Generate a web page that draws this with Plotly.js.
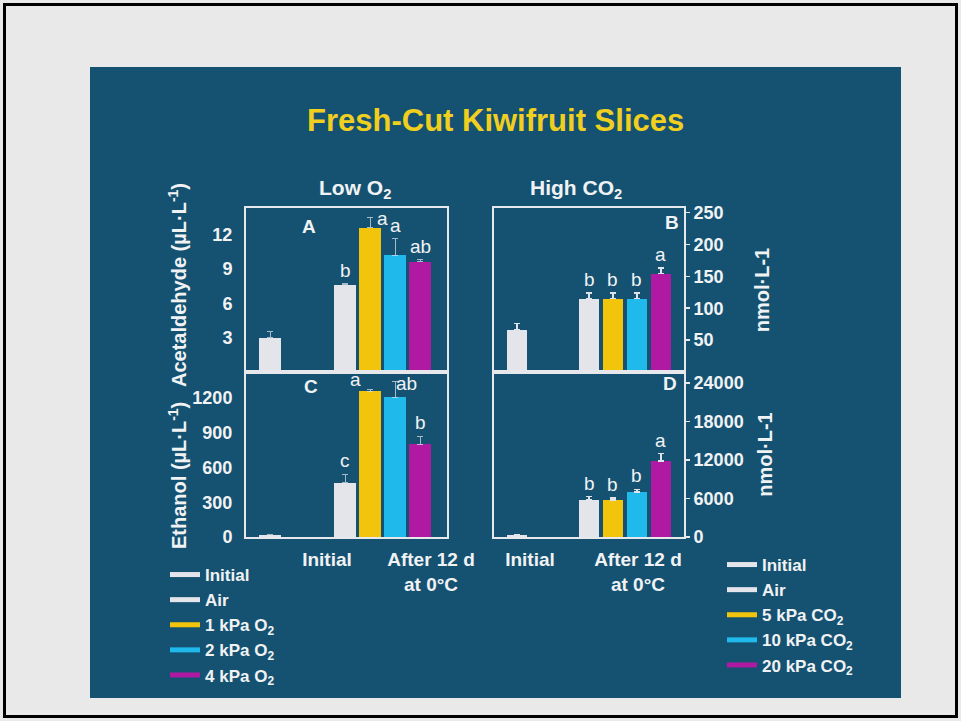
<!DOCTYPE html>
<html><head><meta charset="utf-8">
<script src="https://cdn.plot.ly/plotly-3.0.1.min.js"></script>
<style>html,body{margin:0;padding:0;background:#e9e9e9;}#chart{width:961px;height:721px;}</style>
</head><body><div id="chart"></div>
<script>
// ---- data ----
const treatmentsO2 = ['Initial', 'Air', '1 kPa O<sub>2</sub>', '2 kPa O<sub>2</sub>', '4 kPa O<sub>2</sub>'];
const treatmentsCO2 = ['Initial', 'Air', '5 kPa CO<sub>2</sub>', '10 kPa CO<sub>2</sub>', '20 kPa CO<sub>2</sub>'];
const periods = ['Initial', 'After 12 d<br>at 0°C'];

const acetaldehydeLowO2 = [3.0, 7.6, 12.6, 10.2, 9.6];
const acetaldehydeLowO2Err = [0.57, 0.1, 0.9, 1.4, 0.2];
const acetaldehydeLowO2Letters = ['', 'b', 'a', 'a', 'ab'];

const acetaldehydeHighCO2 = [66, 115, 115, 115, 154];
const acetaldehydeHighCO2Err = [10, 9, 9, 9, 9];
const acetaldehydeHighCO2Letters = ['', 'b', 'b', 'b', 'a'];

const ethanolLowO2 = [20, 470, 1260, 1207, 800];
const ethanolLowO2Err = [5, 70, 15, 131, 70];
const ethanolLowO2Letters = ['', 'c', 'a', 'ab', 'b'];

const ethanolHighCO2 = [300, 5800, 5800, 7000, 11800];
const ethanolHighCO2Err = [100, 500, 300, 400, 1200];
const ethanolHighCO2Letters = ['', 'b', 'b', 'b', 'a'];

const barColors = ['#e3e5eb', '#e3e5eb', '#f2c40c', '#1fb9ec', '#b01aa2'];

// ---- build ----
const W = 961, H = 721;
const px = v => v / W, py = v => 1 - v / H;
function slot(i) { return i === 0 ? 0 : i + 2; }

const panels = [
  {vals: acetaldehydeLowO2, errs: acetaldehydeLowO2Err, letters: acetaldehydeLowO2Letters, xa: 'x', ya: 'y'},
  {vals: acetaldehydeHighCO2, errs: acetaldehydeHighCO2Err, letters: acetaldehydeHighCO2Letters, xa: 'x2', ya: 'y2'},
  {vals: ethanolLowO2, errs: ethanolLowO2Err, letters: ethanolLowO2Letters, xa: 'x3', ya: 'y3'},
  {vals: ethanolHighCO2, errs: ethanolHighCO2Err, letters: ethanolHighCO2Letters, xa: 'x4', ya: 'y4'}
];
// label nudges where letters meet the panel top
const letterShift = {'0-2': [12, -15], '2-2': [-15, -4], '2-3': [11, -15]};

const FONT = 'Liberation Sans, Arial, Helvetica, sans-serif';
const WHITE = '#f1f2f4';
const traces = [];
const annotations = [];

panels.forEach((p, k) => {
  const faint = k % 2 === 0;
  traces.push({
    type: 'bar',
    x: p.vals.map((v, i) => slot(i)),
    y: p.vals,
    width: 0.86,
    marker: {color: barColors, line: {width: 0}},
    error_y: {type: 'data', symmetric: false, array: p.errs, arrayminus: p.errs.map(() => 0),
              color: faint ? 'rgba(215,222,232,0.75)' : '#dfe3ea', thickness: faint ? 1 : 1.5, width: 3},
    xaxis: p.xa, yaxis: p.ya, showlegend: false, hoverinfo: 'y'
  });
  p.letters.forEach((t, i) => {
    if (!t) return;
    const s = letterShift[k + '-' + i] || [0, 0];
    annotations.push({
      xref: p.xa, yref: p.ya, x: slot(i), y: p.vals[i] + p.errs[i],
      text: t, showarrow: false, yanchor: 'bottom', xanchor: 'center',
      xshift: s[0], yshift: 1 + s[1],
      font: {family: FONT, size: 19, color: WHITE}
    });
  });
});

// legend entries (line swatches)
treatmentsO2.forEach((n, i) => traces.push({
  type: 'scatter', mode: 'lines', x: [null], y: [null], name: n,
  line: {color: barColors[i], width: 5}, xaxis: 'x', yaxis: 'y', legend: 'legend', hoverinfo: 'skip'
}));
treatmentsCO2.forEach((n, i) => traces.push({
  type: 'scatter', mode: 'lines', x: [null], y: [null], name: n,
  line: {color: barColors[i], width: 5}, xaxis: 'x2', yaxis: 'y2', legend: 'legend2', hoverinfo: 'skip'
}));

// text annotations
const paperText = (text, x, y, size, bold, color, angle) => ({
  xref: 'paper', yref: 'paper', x: px(x), y: py(y), text: text, showarrow: false,
  xanchor: 'center', yanchor: 'middle', textangle: angle || 0,
  font: {family: FONT, size: size, color: color || WHITE, weight: bold ? 'bold' : 'normal'}
});
annotations.push(paperText('Fresh-Cut Kiwifruit Slices', 495, 120, 31, true, '#f0cf1e'));
annotations.push(paperText('Low O<sub>2</sub>', 355, 189, 21, true));
annotations.push(paperText('High CO<sub>2</sub>', 576, 189, 21, true));
annotations.push(paperText('A', 309, 226, 19, true));
annotations.push(paperText('B', 672, 223, 19, true));
annotations.push(paperText('C', 311, 386, 19, true));
annotations.push(paperText('D', 670, 383, 19, true));
// left axis titles (offset from panel centres, as in the original)
annotations.push(paperText('Acetaldehyde (µL·L<sup>-1</sup>)', 177, 285, 20, true, WHITE, -90));
annotations.push(paperText('Ethanol (µL·L<sup>-1</sup>)', 177, 476, 20, true, WHITE, -90));

const xL = [px(246), px(447)], xR = [px(494), px(684)];
const yTop = [py(372), py(208)], yBot = [py(537), py(372)];
const tickFont = {family: FONT, size: 18, color: WHITE, weight: 'bold'};
const titleFont = {family: FONT, size: 20, color: WHITE, weight: 'bold'};
const xTickFont = {family: FONT, size: 19, color: WHITE, weight: 'bold'};
const base = {showgrid: false, zeroline: false, showline: true, mirror: true,
              linecolor: '#e6e8ec', linewidth: 2, fixedrange: true, tickfont: tickFont};

const layout = {
  width: W, height: H,
  margin: {l: 0, r: 0, t: 0, b: 0},
  paper_bgcolor: '#e9e9e9', plot_bgcolor: 'rgba(0,0,0,0)',
  bargap: 0, showlegend: true,
  xaxis: Object.assign({}, base, {domain: xL, anchor: 'y', range: [-0.96, 7.08], showticklabels: false, ticks: ''}),
  yaxis: Object.assign({}, base, {domain: yTop, anchor: 'x', range: [0, 14.3], tickvals: [3, 6, 9, 12], ticks: '',
    ticklabelstandoff: 8}),
  xaxis2: Object.assign({}, base, {domain: xR, anchor: 'y2', range: [-0.96, 6.96], showticklabels: false, ticks: ''}),
  yaxis2: Object.assign({}, base, {domain: yTop, anchor: 'x2', side: 'right', range: [0, 257],
    tickvals: [50, 100, 150, 200, 250], ticks: 'outside', ticklen: 4, tickwidth: 1.5, tickcolor: '#e6e8ec',
    ticklabelstandoff: 0,
    title: {text: 'nmol·L-1', font: titleFont, standoff: 32}}),
  xaxis3: Object.assign({}, base, {domain: xL, anchor: 'y3', range: [-0.96, 7.08], ticks: '',
    tickvals: [2.28, 6.44], ticktext: periods, tickfont: xTickFont, ticklabelstandoff: 4}),
  yaxis3: Object.assign({}, base, {domain: yBot, anchor: 'x3', range: [0, 1424],
    tickvals: [0, 300, 600, 900, 1200], ticks: '', ticklabelstandoff: 8}),
  xaxis4: Object.assign({}, base, {domain: xR, anchor: 'y4', range: [-0.96, 6.96], ticks: '',
    tickvals: [0.54, 5.04], ticktext: periods, tickfont: xTickFont, ticklabelstandoff: 4}),
  yaxis4: Object.assign({}, base, {domain: yBot, anchor: 'x4', side: 'right', range: [0, 25700],
    tickvals: [0, 6000, 12000, 18000, 24000], tickformat: 'd', ticks: 'outside', ticklen: 4, tickwidth: 1.5,
    tickcolor: '#e6e8ec', ticklabelstandoff: 0,
    title: {text: 'nmol·L-1', font: titleFont, standoff: 15}}),
  legend: {x: px(165), y: py(557), xanchor: 'left', yanchor: 'top', bgcolor: 'rgba(0,0,0,0)',
    font: {family: FONT, size: 17, color: WHITE, weight: 'bold'}, itemwidth: 30, tracegroupgap: 0, traceorder: 'normal'},
  legend2: {x: px(722), y: py(547), xanchor: 'left', yanchor: 'top', bgcolor: 'rgba(0,0,0,0)',
    font: {family: FONT, size: 17, color: WHITE, weight: 'bold'}, itemwidth: 30, tracegroupgap: 0, traceorder: 'normal'},
  shapes: [
    {type: 'rect', xref: 'paper', yref: 'paper', x0: px(4.5), x1: px(956.5), y0: py(716.5), y1: py(4.5),
     line: {color: '#000', width: 3}, fillcolor: 'rgba(0,0,0,0)', layer: 'below'},
    {type: 'rect', xref: 'paper', yref: 'paper', x0: px(90), x1: px(901), y0: py(698), y1: py(67),
     line: {width: 0}, fillcolor: '#155272', layer: 'below'}
  ],
  annotations: annotations
};

Plotly.newPlot('chart', traces, layout, {displayModeBar: false, staticPlot: true});
</script>
</body></html>
